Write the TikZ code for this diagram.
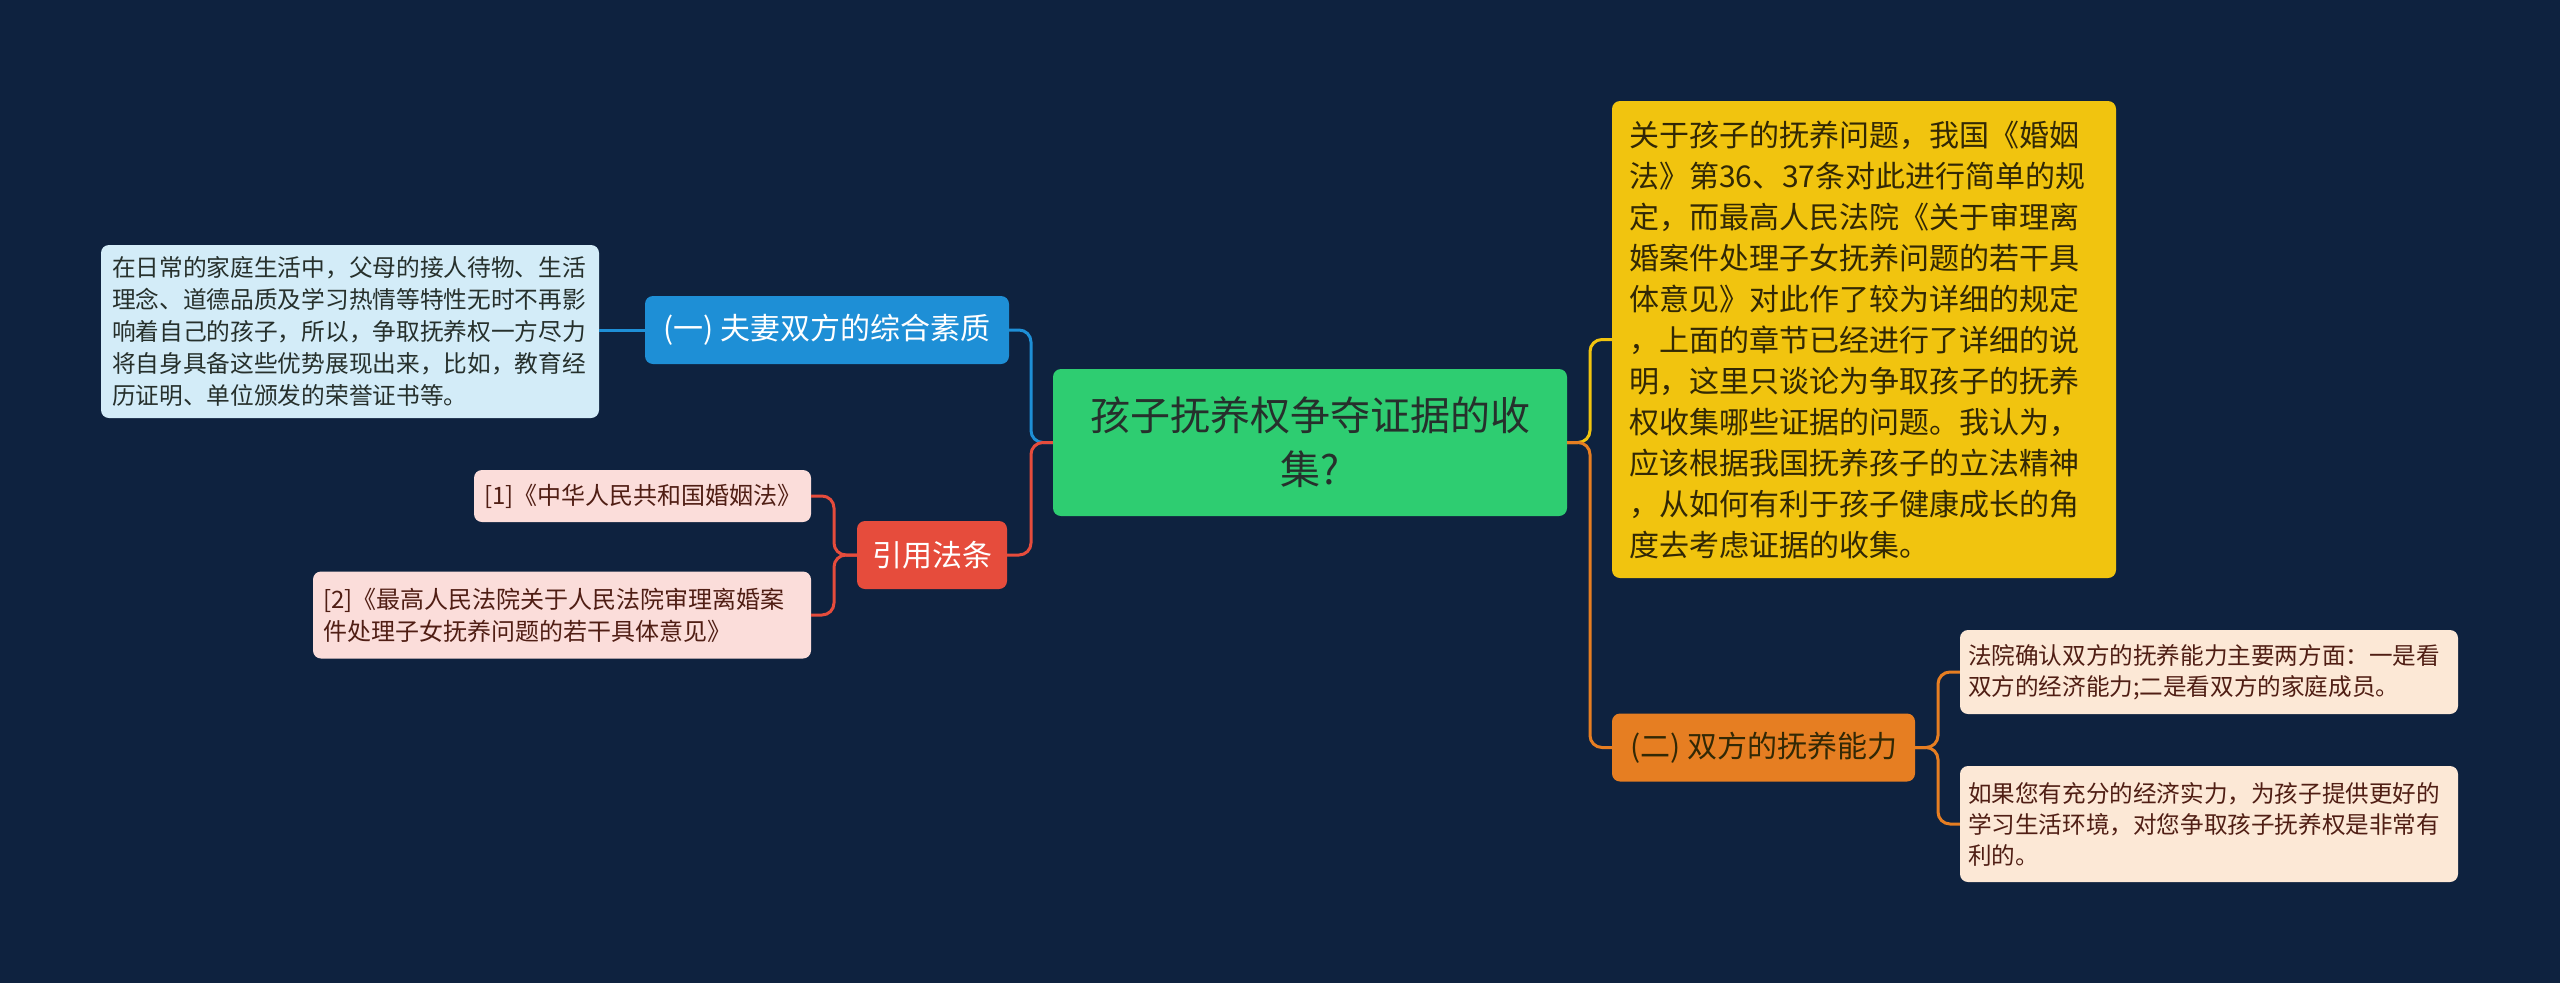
\documentclass[tikz,border=0pt]{standalone}
\usepackage{fontspec}
\setmainfont{Noto Sans CJK SC}
\definecolor{bg}{RGB}{14,34,63}
\definecolor{cgreen}{RGB}{46,205,113}
\definecolor{cblue}{RGB}{30,143,214}
\definecolor{clblue}{RGB}{211,236,248}
\definecolor{cred}{RGB}{230,76,60}
\definecolor{cpink}{RGB}{251,221,218}
\definecolor{cyellow}{RGB}{241,196,15}
\definecolor{corange}{RGB}{230,126,34}
\definecolor{ccream}{RGB}{252,232,214}
\definecolor{tdark}{RGB}{38,48,44}
\definecolor{tbrown}{RGB}{80,30,20}
\definecolor{tydark}{RGB}{50,40,5}
\begin{document}
\begin{tikzpicture}[x=1pt,y=-1pt,
  box/.style={rounded corners=8pt, inner sep=0pt, align=left},
  leaf/.style={box, font=\fontsize{24}{32}\selectfont},
  branch/.style={box, align=center, font=\fontsize{30}{36}\selectfont, minimum height=68pt},
  link/.style={line width=3pt, rounded corners=12pt}]
\useasboundingbox[fill=bg] (0,0) rectangle (2560,983);

% central
\node[box, align=center, fill=cgreen, text=tdark, minimum width=514pt, minimum height=147pt,
  text width=480pt, font=\fontsize{40}{54}\selectfont] (c) at (1310,442.5)
  {孩子抚养权争夺证据的收\\集?};

% left branches
\node[branch, fill=cblue, text=white, minimum width=364pt] (b1) at (827,330) {(一) 夫妻双方的综合素质};
\node[branch, fill=cred, text=white, minimum width=150pt] (b2) at (932,555) {引用法条};

\node[box, fill=clblue, text=tdark, minimum width=498pt, minimum height=173pt, text width=476pt,
  font=\fontsize{23.7}{32}\selectfont] (l1) at (350,331.5)
  {在日常的家庭生活中，父母的接人待物、生活\\理念、道德品质及学习热情等特性无时不再影\\响着自己的孩子，所以，争取抚养权一方尽力\\将自身具备这些优势展现出来，比如，教育经\\历证明、单位颁发的荣誉证书等。};

\node[leaf, fill=cpink, text=tbrown, minimum width=337pt, minimum height=52pt, text width=317pt, align=center] (p1) at (642.5,496)
  {[1]《中华人民共和国婚姻法》};
\node[leaf, fill=cpink, text=tbrown, minimum width=498pt, minimum height=87pt, text width=478pt] (p2) at (562,615)
  {[2]《最高人民法院关于人民法院审理离婚案\\件处理子女抚养问题的若干具体意见》};

% right branches
\node[box, fill=cyellow, text=tydark, minimum width=504pt, minimum height=477pt, text width=470pt,
  font=\fontsize{30}{41}\selectfont] (y) at (1864,339.5)
  {关于孩子的抚养问题，我国《婚姻\\法》第36、37条对此进行简单的规\\定，而最高人民法院《关于审理离\\婚案件处理子女抚养问题的若干具\\体意见》对此作了较为详细的规定\\，上面的章节已经进行了详细的说\\明，这里只谈论为争取孩子的抚养\\权收集哪些证据的问题。我认为，\\应该根据我国抚养孩子的立法精神\\，从如何有利于孩子健康成长的角\\度去考虑证据的收集。};

\node[branch, fill=corange, text=tydark, minimum width=303pt] (o) at (1763.5,747.5) {(二) 双方的抚养能力};

\node[leaf, fill=ccream, text=tbrown, minimum width=498pt, minimum height=84pt, text width=482pt,
  font=\fontsize{23.6}{31}\selectfont] (r1) at (2209,672)
  {法院确认双方的抚养能力主要两方面：一是看\\双方的经济能力;二是看双方的家庭成员。};
\node[leaf, fill=ccream, text=tbrown, minimum width=498pt, minimum height=116pt, text width=482pt,
  font=\fontsize{23.6}{31}\selectfont] (r2) at (2209,824)
  {如果您有充分的经济实力，为孩子提供更好的\\学习生活环境，对您争取孩子抚养权是非常有\\利的。};

% trunk coordinates
\coordinate (tL) at (1031,442.5);
\coordinate (tR) at (1590,442.5);
\coordinate (tP) at (834,555);
\coordinate (tO) at (1938,747.5);

% connectors
\draw[link, cblue] (c.west) -- (tL) |- (b1.east);
\draw[link, cred] (c.west) -- (tL) |- (b2.east);
\draw[link, cblue] (b1.west) -- (b1.west -| l1.east);
\draw[link, cred] (b2.west) -- (tP) |- (p1.east);
\draw[link, cred] (b2.west) -- (tP) |- (p2.east);
\draw[link, cyellow] (c.east) -- (tR) |- (y.west);
\draw[link, corange] (c.east) -- (tR) |- (o.west);
\draw[link, corange] (o.east) -- (tO) |- (r1.west);
\draw[link, corange] (o.east) -- (tO) |- (r2.west);
\end{tikzpicture}
\end{document}
